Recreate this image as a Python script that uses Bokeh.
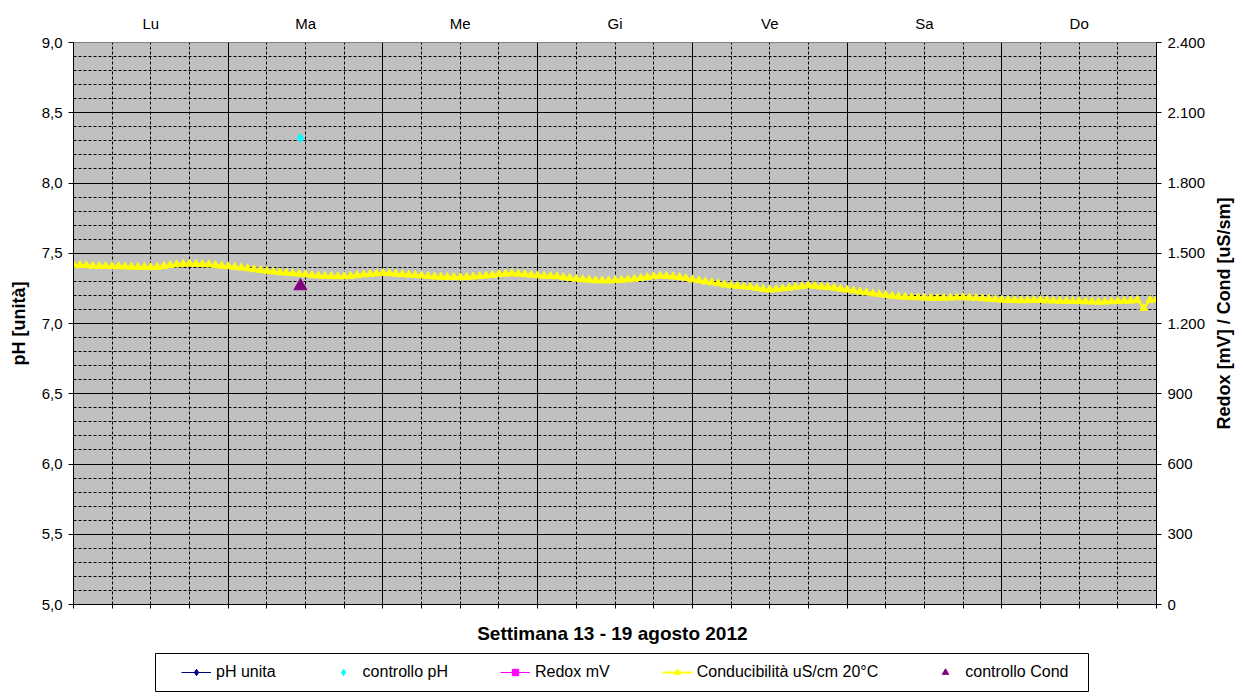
import math
from bokeh.plotting import figure
from bokeh.layouts import row, column
from bokeh.models import (Range1d, LinearAxis, FixedTicker, Legend, LegendItem, Label,
                          ColumnDataSource, CustomJSTickFormatter)
from bokeh.embed import file_html
from bokeh.resources import INLINE

# ---------------- data ----------------
days = ["Lu", "Ma", "Me", "Gi", "Ve", "Sa", "Do"]

# Conducibilità uS/cm 20°C, hourly readings (secondary axis)
cond_lu = [1450, 1449, 1448, 1446, 1445, 1445, 1444, 1444, 1443, 1442, 1441, 1441,
           1440, 1441, 1445, 1449, 1452, 1454, 1455, 1454, 1453, 1452, 1449, 1446]
cond_ma = [1444, 1441, 1438, 1435, 1431, 1428, 1424, 1421, 1418, 1416, 1414, 1412,
           1409, 1406, 1404, 1403, 1402, 1401, 1401, 1403, 1406, 1409, 1411, 1413]
cond_me = [1415, 1414, 1412, 1410, 1408, 1406, 1404, 1402, 1400, 1399, 1398, 1398,
           1397, 1398, 1400, 1402, 1404, 1407, 1410, 1412, 1414, 1412, 1410, 1407]
cond_gi = [1405, 1403, 1402, 1401, 1397, 1394, 1390, 1388, 1386, 1384, 1383, 1383,
           1384, 1386, 1388, 1390, 1394, 1398, 1401, 1404, 1402, 1400, 1398, 1393]
cond_ve = [1388, 1384, 1379, 1375, 1371, 1366, 1362, 1360, 1357, 1355, 1351, 1347,
           1344, 1346, 1349, 1352, 1356, 1359, 1362, 1360, 1357, 1355, 1352, 1348]
cond_sa = [1344, 1340, 1336, 1332, 1328, 1325, 1321, 1318, 1315, 1313, 1312, 1311,
           1310, 1309, 1309, 1309, 1310, 1311, 1312, 1310, 1309, 1307, 1305, 1303]
cond_do = [1301, 1300, 1299, 1298, 1299, 1300, 1300, 1298, 1297, 1296, 1296, 1295,
           1295, 1294, 1293, 1292, 1293, 1294, 1295, 1296, 1297, 1300, 1266, 1300, 1303]

# control measurements (hour of week, value)
ctrl_ph_hour = [35.2]
ctrl_ph_value = [8.32]
ctrl_cond_hour = [35.2]
ctrl_cond_value = [1360]

# series without any value this week (no reading -> NaN)
ph_unita_hour = [0]
ph_unita = [float("nan")]
redox_hour = [0]
redox_mv = [float("nan")]

left_ticks = [5.0, 5.5, 6.0, 6.5, 7.0, 7.5, 8.0, 8.5, 9.0]
right_ticks = [0, 300, 600, 900, 1200, 1500, 1800, 2100, 2400]

# ---------------- build ----------------
cond_all = cond_lu + cond_ma + cond_me + cond_gi + cond_ve + cond_sa + cond_do
hours = list(range(len(cond_all)))

FONT = "Liberation Sans"

p = figure(width=1208, height=648, x_range=Range1d(0, 168), y_range=Range1d(5, 9),
           output_backend="svg", toolbar_location=None,
           min_border_left=73, min_border_right=52, min_border_top=42, min_border_bottom=44)
p.extra_y_ranges = {"cond": Range1d(0, 2400)}
p.background_fill_color = "#C0C0C0"
p.border_fill_color = "white"
p.outline_line_color = "#808080"

# grids
quarters = [h for h in range(0, 169, 6)]
p.xgrid.ticker = FixedTicker(ticks=[24, 48, 72, 96, 120, 144],
                             minor_ticks=[h for h in quarters if h % 24 != 0])
p.xgrid.grid_line_color = "black"
p.xgrid.grid_line_width = 1
p.xgrid.minor_grid_line_color = "black"
p.xgrid.minor_grid_line_dash = "3 2"

tenths = [round(5 + 0.1 * k, 1) for k in range(1, 40)]
p.ygrid.ticker = FixedTicker(ticks=[5.5, 6.0, 6.5, 7.0, 7.5, 8.0, 8.5],
                             minor_ticks=[t for t in tenths if abs(t * 2 - round(t * 2)) > 1e-6])
p.ygrid.grid_line_color = "black"
p.ygrid.grid_line_width = 1
p.ygrid.minor_grid_line_color = "black"
p.ygrid.minor_grid_line_dash = "3 2"


def style_axis(ax):
    ax.axis_line_color = "black"
    ax.major_tick_line_color = "black"
    ax.minor_tick_line_color = None
    ax.major_tick_in = 0
    ax.major_tick_out = 5
    ax.major_label_text_font = FONT
    ax.major_label_text_font_size = "15px"
    ax.major_label_text_color = "black"
    ax.axis_label_text_font = FONT
    ax.axis_label_text_font_style = "bold"
    ax.axis_label_text_color = "black"


# left axis
ly = p.yaxis[0]
style_axis(ly)
ly.ticker = FixedTicker(ticks=left_ticks)
ly.formatter = CustomJSTickFormatter(code="return tick.toFixed(1).replace('.', ',');")
ly.major_label_standoff = 6
ly.axis_label = "pH [unità]"
ly.axis_label_text_font_size = "18px"
ly.axis_label_standoff = 10

# right axis (its title is drawn in a narrow side figure, reading bottom-to-top)
ry = LinearAxis(y_range_name="cond")
style_axis(ry)
ry.ticker = FixedTicker(ticks=right_ticks)
ry.formatter = CustomJSTickFormatter(
    code="return Math.round(tick).toString().replace(/\\B(?=(\\d{3})+(?!\\d))/g, '.');")
ry.major_label_standoff = 6
p.add_layout(ry, "right")

# bottom axis
bx = p.xaxis[0]
style_axis(bx)
bx.ticker = FixedTicker(ticks=quarters)
bx.major_tick_out = 4
bx.formatter = CustomJSTickFormatter(code="return '';")
bx.major_label_standoff = 0
bx.axis_label = "Settimana  13 - 19 agosto 2012"
bx.axis_label_text_font_size = "19px"
bx.axis_label_standoff = 14

# top axis with day names
tx = LinearAxis()
style_axis(tx)
tx.axis_line_color = None
tx.major_tick_line_color = None
tx.major_tick_out = 0
tx.ticker = FixedTicker(ticks=[12 + 24 * k for k in range(7)])
tx.formatter = CustomJSTickFormatter(args=dict(days=days),
                                     code="return days[Math.floor(tick / 24)];")
tx.major_label_standoff = 11
p.add_layout(tx, "above")

# ---------------- glyphs ----------------
src_cond = ColumnDataSource(dict(x=hours, y=cond_all))
src_ph = ColumnDataSource(dict(x=ph_unita_hour, y=ph_unita))
src_redox = ColumnDataSource(dict(x=redox_hour, y=redox_mv))
src_cph = ColumnDataSource(dict(x=ctrl_ph_hour, y=ctrl_ph_value))
src_ccond = ColumnDataSource(dict(x=ctrl_cond_hour, y=ctrl_cond_value))


def draw_series(fig, yr_cond):
    kw = dict(y_range_name="cond") if yr_cond else {}
    r = {}
    r["cond_line"] = fig.line("x", "y", source=src_cond, line_color="#FFFF00",
                              line_width=2, **kw)
    r["cond_mark"] = fig.scatter("x", "y", source=src_cond, marker="triangle", size=8,
                                 fill_color="#FFFF00", line_color="#FFFF00", **kw)
    r["ph_line"] = fig.line("x", "y", source=src_ph, line_color="#000080", line_width=1)
    r["ph_mark"] = fig.scatter("x", "y", source=src_ph, marker="diamond", size=9,
                               fill_color="#000080", line_color="#000080")
    r["rx_line"] = fig.line("x", "y", source=src_redox, line_color="#FF00FF",
                            line_width=1, **kw)
    r["rx_mark"] = fig.scatter("x", "y", source=src_redox, marker="square", size=6,
                               fill_color="#FF00FF", line_color="#FF00FF", **kw)
    r["cph"] = fig.scatter("x", "y", source=src_cph, marker="diamond", size=9,
                           fill_color="#00FFFF", line_color="#00FFFF")
    r["ccond"] = fig.scatter("x", "y", source=src_ccond, marker="triangle", size=13,
                             fill_color="#800080", line_color="#800080", **kw)
    return r


draw_series(p, True)

# ---------------- right title (side strip) ----------------
rt = figure(width=35, height=648, x_range=Range1d(0, 1), y_range=Range1d(0, 1),
            output_backend="svg", toolbar_location=None,
            x_axis_type=None, y_axis_type=None, min_border=0)
rt.outline_line_color = None
rt.background_fill_color = "white"
rt.border_fill_color = "white"
rt.add_layout(Label(x=0.43, y=0.518, text="Redox [mV] / Cond [uS/sm]",
                    angle=math.pi / 2, text_align="center", text_baseline="middle",
                    text_font=FONT, text_font_style="bold", text_font_size="18px",
                    text_color="black"))

# ---------------- legend strip (its frame outline is the legend box) ----------------
lg = figure(width=1243, height=48, x_range=Range1d(0, 1), y_range=Range1d(0, 1),
            output_backend="svg", toolbar_location=None,
            x_axis_type=None, y_axis_type=None,
            min_border_left=155, min_border_right=155, min_border_top=5, min_border_bottom=5)
lg.outline_line_color = "black"
lg.outline_line_width = 1
lg.background_fill_color = "white"
lg.border_fill_color = "white"
lr = draw_series(lg, False)

legend = Legend(items=[
    LegendItem(label="pH unita", renderers=[lr["ph_line"], lr["ph_mark"]]),
    LegendItem(label="controllo pH", renderers=[lr["cph"]]),
    LegendItem(label="Redox mV", renderers=[lr["rx_line"], lr["rx_mark"]]),
    LegendItem(label="Conducibilità uS/cm 20°C", renderers=[lr["cond_line"], lr["cond_mark"]]),
    LegendItem(label="controllo Cond", renderers=[lr["ccond"]]),
], orientation="horizontal", location="left")
legend.label_text_font = FONT
legend.label_text_font_size = "16px"
legend.label_text_color = "black"
legend.border_line_color = None
legend.background_fill_color = "white"
legend.background_fill_alpha = 1
legend.glyph_width = 30
legend.glyph_height = 16
legend.label_standoff = 5
legend.spacing = 52
legend.padding = 9
legend.margin = 26
lg.add_layout(legend)

layout = column(row(p, rt), lg)
open("out.html", "w").write(file_html(layout, INLINE))
